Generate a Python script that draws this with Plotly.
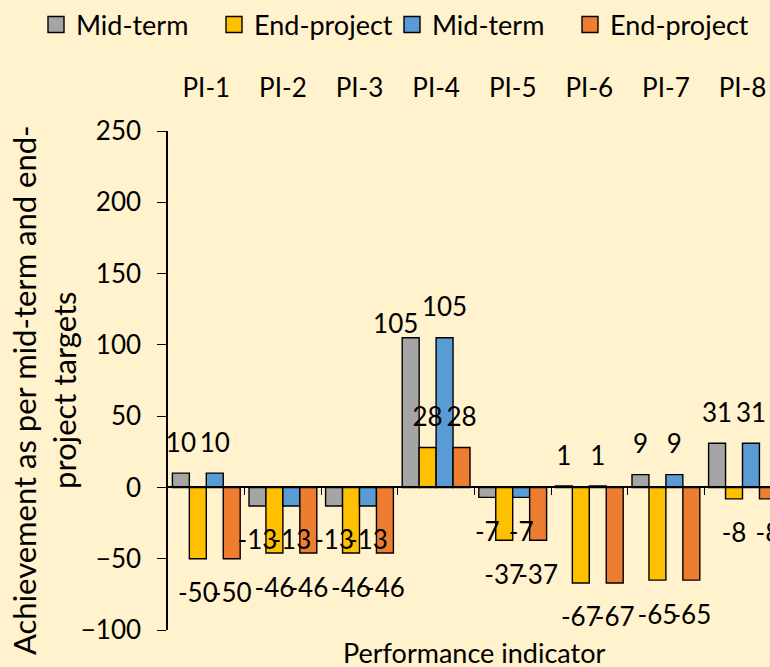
import plotly.graph_objects as go

# ---- data ----
categories = ["PI-1", "PI-2", "PI-3", "PI-4", "PI-5", "PI-6", "PI-7", "PI-8"]
mid_term_a = [10, -13, -13, 105, -7, 1, 9, 31]
end_project_a = [-50, -46, -46, 28, -37, -67, -65, -8]
mid_term_b = [10, -13, -13, 105, -7, 1, 9, 31]
end_project_b = [-50, -46, -46, 28, -37, -67, -65, -8]
series_names = ["Mid-term", "End-project", "Mid-term", "End-project"]
y_ticks = [-100, -50, 0, 50, 100, 150, 200, 250]

# ---- style ----
colors = ["#A5A5A5", "#FFC000", "#5B9BD5", "#ED7D31"]
W, H = 770, 667
ML, MR, MT, MB = 168, 0, 131, 37
CAT_PX = 76.6
FONT = "Lato, Carlito, Calibri, sans-serif"
FS = 26          # tick labels and data labels
FS_LEG = 27
FS_XT = 27
FS_YT = 31
BG = "#FFF2CC"
bargap = 0.115

plot_w = W - ML - MR
plot_h = H - MT - MB
y_range = [-100, 250]
x_range = [-0.5, -0.5 + plot_w / CAT_PX]
px_y = plot_h / (y_range[1] - y_range[0])
px_x = plot_w / (x_range[1] - x_range[0])

series = [mid_term_a, end_project_a, mid_term_b, end_project_b]
x_idx = list(range(len(categories)))
n = len(series)
bar_w = (1 - bargap) / n

fig = go.Figure()
for k, (vals, name, col) in enumerate(zip(series, series_names, colors)):
    fig.add_trace(go.Bar(
        x=x_idx, y=vals, name=name, offsetgroup=str(k), showlegend=False,
        marker=dict(color=col, line=dict(color="black", width=1.4)),
    ))

# legend entries
for name, col in zip(series_names, colors):
    fig.add_trace(go.Scatter(
        x=[None], y=[None], mode="markers", name=name,
        marker=dict(symbol="square", size=16, color=col,
                    line=dict(color="black", width=1.4)),
    ))

# data labels (pixel offsets converted through the axis scales)
nudges = {(0, 3): (-15, -17)}
for k, vals in enumerate(series):
    xs, ys = [], []
    for i, v in enumerate(vals):
        dx, dy = nudges.get((k, i), (0, 0))
        off = 28 if v >= 0 else -37
        xs.append(i + (k - (n - 1) / 2) * bar_w + dx / px_x)
        ys.append(v + (off + dy) / px_y)
    fig.add_trace(go.Scatter(
        x=xs, y=ys, mode="text", text=[str(v) for v in vals],
        textposition="middle center", showlegend=False, hoverinfo="skip",
        textfont=dict(size=FS, color="black", family=FONT), cliponaxis=False,
    ))

# helper trace for the zero-crossing category axis
fig.add_trace(go.Scatter(x=[None], y=[None], xaxis="x2", showlegend=False,
                         hoverinfo="skip"))

fig.update_layout(
    width=W, height=H,
    margin=dict(l=ML, r=MR, t=MT, b=MB, pad=0, autoexpand=False),
    paper_bgcolor=BG, plot_bgcolor=BG,
    barmode="group", bargap=bargap, bargroupgap=0,
    font=dict(family=FONT, size=FS, color="black"),
    xaxis=dict(type="linear", range=x_range, tickvals=x_idx, ticktext=categories,
               side="top", showline=False, showgrid=False, zeroline=False,
               ticks="", ticklabelstandoff=28, automargin=False),
    xaxis2=dict(type="linear", range=x_range, overlaying="x", anchor="free",
                position=(0 - y_range[0]) / (y_range[1] - y_range[0]),
                side="bottom", showline=True, linecolor="black", linewidth=1.5,
                ticks="outside", ticklen=7, tickwidth=1.3, tickcolor="black",
                tickvals=[i + 0.5 for i in x_idx[:-1]], showticklabels=False,
                showgrid=False, zeroline=False, automargin=False),
    yaxis=dict(range=y_range, tickvals=y_ticks, showline=True, linecolor="black",
               linewidth=1.5, ticks="outside", ticklen=9, tickwidth=1.3,
               tickcolor="black", showgrid=False, zeroline=False,
               ticklabelstandoff=11, automargin=False),
    legend=dict(orientation="h", xref="paper", x=(36 - ML) / plot_w,
                xanchor="left", yref="paper", y=(H - MB - 25) / plot_h,
                yanchor="middle", entrywidth=133, entrywidthmode="pixels",
                font=dict(size=FS_LEG), bgcolor="rgba(0,0,0,0)"),
    annotations=[
        dict(text="Achievement as per mid-term and end-<br>project targets",
             textangle=-90, xref="paper", x=(44 - ML) / plot_w, xanchor="center",
             yref="paper", y=(H - MB - 390) / plot_h, yanchor="middle",
             showarrow=False, font=dict(size=FS_YT)),
        dict(text="Performance indicator", xref="paper", x=(474 - ML) / plot_w,
             xanchor="center", yref="paper", y=(H - MB - 652) / plot_h,
             yanchor="middle", showarrow=False, font=dict(size=FS_XT)),
    ],
)

fig.write_html("out.html",
               config={"displayModeBar": False},
               post_script="document.body.style.margin='0';"
                           "document.body.style.padding='0';")
